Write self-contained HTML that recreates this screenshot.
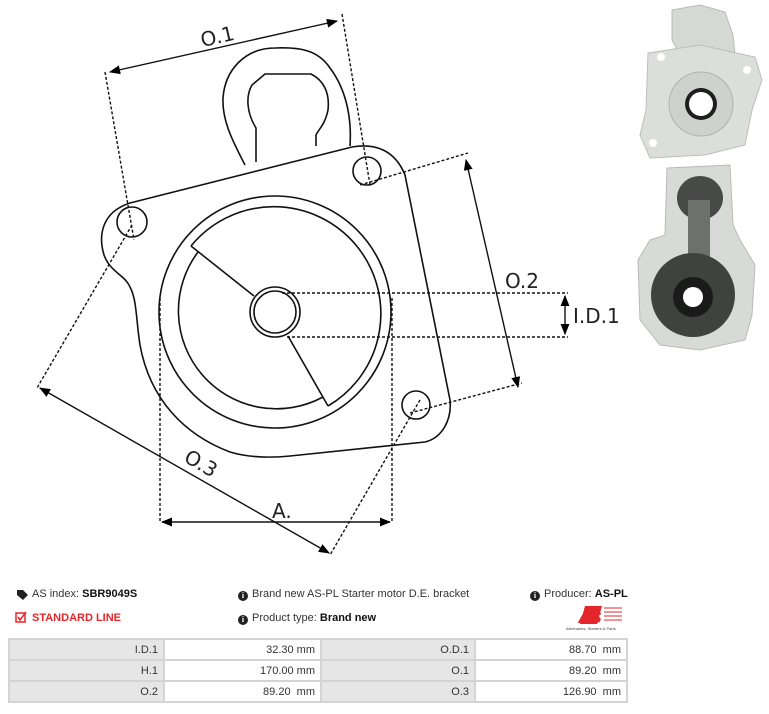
<!DOCTYPE html>
<html><head><meta charset="utf-8"><style>
*{margin:0;padding:0}
body{width:769px;height:714px;background:#fff;position:relative;overflow:hidden;font-family:"Liberation Sans",sans-serif;}
svg{position:absolute;left:0;top:0}
.t{position:absolute;font-size:11px;color:#333;white-space:nowrap}
.t b{color:#111}
.ic{display:inline-block;width:10px;height:10px;border-radius:50%;background:#222;color:#fff;font-size:8px;line-height:10px;text-align:center;font-weight:bold;vertical-align:-1px;margin-right:4px;font-family:"Liberation Serif",serif}
table{position:absolute;left:8px;top:638px;border-collapse:collapse;font-size:11px;color:#333}
td{border:2px solid #d4d4d4;height:19px;text-align:right;padding:0 5px}
td.g{background:#e6e6e6}
</style></head><body>
<svg width="769" height="714" viewBox="0 0 769 714">
<defs><marker id="a" viewBox="0 0 10 10" refX="9" refY="5" markerWidth="8" markerHeight="8" orient="auto-start-reverse"><path d="M0,1 L10,5 L0,9 z" fill="#000"/></marker></defs>
<g fill="none" stroke="#111" stroke-width="1.6">
<path d="M245,165 C232,140 222,120 223,98 C225,70 245,48 275,48 C300,47 318,50 330,68 C345,88 352,115 350,146"/>
<path d="M256,162 L256,128 C246,112 246,95 252,85 L265,74 L311,74 C323,80 330,92 328,110 C325,125 318,130 316,135 L316,146"/>
<path d="M130,203 L352,147 C375,143 395,150 405,175 L450,400 C452,420 442,438 425,442 L290,456 C270,458 250,458 230,452 C185,435 150,400 140,345 C136,320 137,300 130,287 C125,275 110,272 104,255 C98,235 102,212 130,203 Z"/>
<circle cx="132" cy="222" r="15"/>
<circle cx="367" cy="171" r="14"/>
<circle cx="416" cy="405" r="14"/>
<circle cx="275" cy="312" r="116"/>
<path d="M191,246 L254,296"/>
<path d="M288,336 L328,406"/>
<path d="M191,246 A107,107 0 1,1 328,406"/>
<path d="M323,397 A98,98 0 0,1 198,252"/>
<circle cx="275" cy="312" r="25"/>
<circle cx="275" cy="312" r="21"/>
</g>
<g fill="none" stroke="#111" stroke-width="1.4" stroke-dasharray="3,2">
<path d="M105,72 L134,240"/><path d="M342,14 L370,185"/>
<path d="M360,185 L468,153"/><path d="M410,413 L522,383"/>
<path d="M132,225 L37,388"/><path d="M420,400 L330,555"/>
<path d="M160,298 L160,522"/><path d="M392,298 L392,522"/>
<path d="M282,293 L568,293"/><path d="M287,337 L568,337"/>
</g>
<g stroke="#111" stroke-width="1.4" marker-start="url(#a)" marker-end="url(#a)">
<line x1="110" y1="72" x2="337" y2="21"/>
<line x1="466" y1="160" x2="518" y2="387"/>
<line x1="40" y1="388" x2="329" y2="553"/>
<line x1="162" y1="522" x2="390" y2="522"/>
<line x1="565" y1="296" x2="565" y2="334"/>
</g>
<g font-family="'DejaVu Sans',sans-serif" font-size="20" fill="#222">
<text x="200" y="44" transform="rotate(-13 215 35)">O.1</text>
<text x="505" y="288">O.2</text>
<text x="183" y="470" transform="rotate(30 200 465)">O.3</text>
<text x="272" y="518">A.</text>
<text x="573" y="323">I.D.1</text>
</g>
<g>
<path d="M672,10 L700,5 L725,12 L733,35 L735,55 L680,55 L672,40 Z" fill="#d6d8d6" stroke="#b8bab8"/>
<path d="M648,53 L700,45 L755,57 L762,80 L752,110 L745,145 L705,155 L650,158 L640,135 L646,110 Z" fill="#dcdedc" stroke="#bcbebc"/>
<circle cx="701" cy="104" r="32" fill="#cfd1cf" stroke="#b0b2b0"/>
<circle cx="701" cy="104" r="16" fill="#1e1e1e"/>
<circle cx="701" cy="104" r="12" fill="#fff"/>
<circle cx="661" cy="57" r="4" fill="#fff"/><circle cx="747" cy="70" r="4" fill="#fff"/><circle cx="653" cy="143" r="4" fill="#fff"/>
<path d="M667,168 L730,165 L733,225 L740,240 L755,265 L752,315 L745,340 L700,350 L660,345 L640,320 L638,260 L650,240 L665,235 Z" fill="#d8dad8" stroke="#b8bab8"/>
<ellipse cx="700" cy="198" rx="23" ry="22" fill="#474a46"/>
<rect x="688" y="200" width="22" height="60" fill="#6d716b"/>
<circle cx="693" cy="295" r="42" fill="#3f423e"/>
<circle cx="693" cy="297" r="20" fill="#1a1a1a"/>
<circle cx="693" cy="297" r="10" fill="#fff"/>
</g>
<path d="M17,590 L23,590 L28,595 L23,600 L17,595 Z" fill="#222"/>
<rect x="16" y="613" width="9" height="9" fill="none" stroke="#e3262a" stroke-width="1.5"/>
<path d="M18,617 L20,620 L26,612" stroke="#e3262a" stroke-width="1.6" fill="none"/>
<path d="M585,606 L597,606 L592,624 L580,624 Z M593,606 L602,606 L597,624 L588,624" fill="#e3262a"/>
<text x="578" y="623" font-family="Liberation Sans" font-weight="bold" font-style="italic" font-size="17" fill="#e3262a">AS</text>
<g stroke="#e3262a"><line x1="604" y1="608" x2="622" y2="608"/><line x1="604" y1="612" x2="622" y2="612"/><line x1="604" y1="616" x2="622" y2="616"/><line x1="604" y1="620" x2="622" y2="620"/></g>
<text x="566" y="630" font-family="Liberation Sans" font-size="4" fill="#444">Alternators, Starters &amp; Parts</text>
</svg>
<div class="t" style="left:32px;top:588px">AS index: <b>SBR9049S</b></div>
<div class="t" style="left:32px;top:612px;color:#e3262a;font-weight:bold">STANDARD LINE</div>
<div class="t" style="left:238px;top:588px"><span class="ic">i</span>Brand new AS-PL Starter motor D.E. bracket</div>
<div class="t" style="left:238px;top:612px"><span class="ic">i</span>Product type: <b>Brand new</b></div>
<div class="t" style="left:530px;top:588px"><span class="ic">i</span>Producer: <b>AS-PL</b></div>
<table>
<tr><td class="g" style="width:143px">I.D.1</td><td style="width:145px">32.30 mm</td><td class="g" style="width:142px">O.D.1</td><td style="width:140px">88.70&nbsp; mm</td></tr>
<tr><td class="g">H.1</td><td>170.00 mm</td><td class="g">O.1</td><td>89.20&nbsp; mm</td></tr>
<tr><td class="g">O.2</td><td>89.20&nbsp; mm</td><td class="g">O.3</td><td>126.90&nbsp; mm</td></tr>
</table>
</body></html>
